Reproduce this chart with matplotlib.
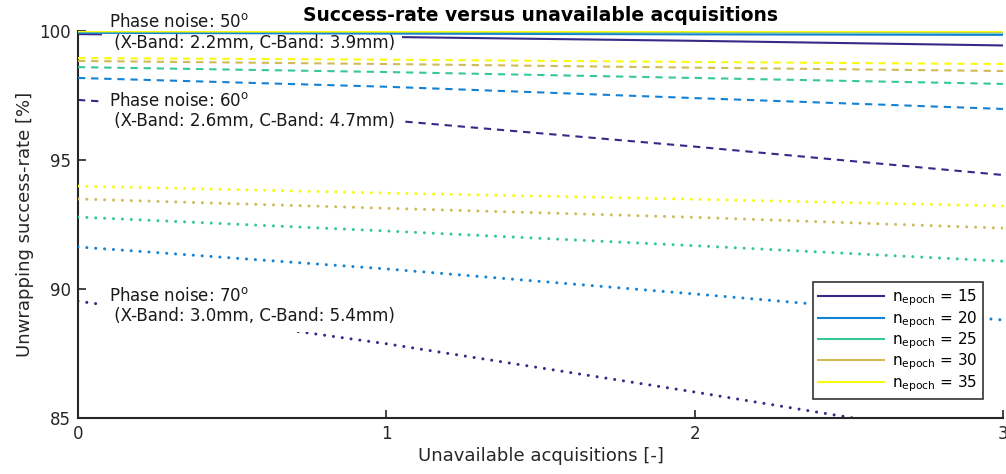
import matplotlib
matplotlib.use('Agg')
import matplotlib.pyplot as plt
import numpy as np

# unavailable acquisitions
x = [0, 1, 2, 3]
n_epochs = [15, 20, 25, 30, 35]
colors = ['#352a87', '#1482d4', '#37c897', '#d1bb59', '#f9fb0e']

# success rate [%] per n_epoch, for each phase noise level
sr_50 = [
    [99.88, 99.77, 99.62, 99.44],
    [99.93, 99.90, 99.87, 99.85],
    [99.97, 99.96, 99.95, 99.94],
    [99.99, 99.98, 99.98, 99.97],
    [100.0, 99.99, 99.99, 99.99],
]
sr_60 = [
    [97.33, 96.55, 95.52, 94.42],
    [98.18, 97.84, 97.40, 96.98],
    [98.60, 98.41, 98.18, 97.95],
    [98.84, 98.72, 98.58, 98.45],
    [98.95, 98.89, 98.80, 98.72],
]
sr_70 = [
    [89.53, 87.88, 86.01, 84.05],
    [91.63, 90.78, 89.81, 88.80],
    [92.79, 92.25, 91.68, 91.08],
    [93.49, 93.13, 92.78, 92.36],
    [93.99, 93.72, 93.48, 93.22],
]

labels_50 = 'Phase noise: 50$^\\mathregular{o}$\n (X-Band: 2.2mm, C-Band: 3.9mm)'
labels_60 = 'Phase noise: 60$^\\mathregular{o}$\n (X-Band: 2.6mm, C-Band: 4.7mm)'
labels_70 = 'Phase noise: 70$^\\mathregular{o}$\n (X-Band: 3.0mm, C-Band: 5.4mm)'

fig = plt.figure(figsize=(10.06, 4.74), dpi=100)
ax = fig.add_axes([0.0775, 0.118, 0.9195, 0.8166])

dashed = (0, (3.5, 2.8))
dotted = (0, (0.01, 2.9))
for i, n in enumerate(n_epochs):
    z = 2 if i == 0 else 4
    ax.plot(x, sr_50[i], color=colors[i], lw=1.5, zorder=z,
            label=r'$\mathregular{n_{epoch}}$ = %d' % n)
    ax.plot(x, sr_60[i], color=colors[i], lw=1.5, ls=dashed, zorder=z)
    ax.plot(x, sr_70[i], color=colors[i], lw=2.2, ls=dotted,
            dash_capstyle='round', zorder=z)

box = dict(facecolor='white', edgecolor='none', boxstyle='square,pad=0.4')
for lab, yv in [(labels_50, 99.94), (labels_60, 96.9), (labels_70, 89.34)]:
    ax.text(0.1, yv, lab, fontsize=12, ha='left', va='center',
            color='#1a1a1a', bbox=box, zorder=3, linespacing=1.2)

ax.set_xlim(0, 3)
ax.set_ylim(85, 100)
ax.set_xticks([0, 1, 2, 3])
ax.set_yticks([85, 90, 95, 100])
for s in ['top', 'right']:
    ax.spines[s].set_visible(False)
for s in ['left', 'bottom']:
    ax.spines[s].set_linewidth(1.5)
    ax.spines[s].set_color('#262626')
ax.tick_params(direction='in', length=6, width=1.2, labelsize=12,
               colors='#262626', pad=5)

ax.set_title('Success-rate versus unavailable acquisitions', fontsize=13.5,
             fontweight='bold', pad=7)
ax.set_xlabel('Unavailable acquisitions [-]', fontsize=13, color='#262626',
              labelpad=3)
ax.set_ylabel('Unwrapping success-rate [%]', fontsize=13, color='#262626',
              labelpad=4)

leg = ax.legend(loc='lower right', bbox_to_anchor=(0.978, 0.049), fontsize=11,
                fancybox=False, framealpha=1, edgecolor='#333333',
                handlelength=4.3, labelspacing=0.05, borderpad=0.35,
                handletextpad=0.5, borderaxespad=0)
leg.get_frame().set_linewidth(1.2)

fig.savefig('out.png', dpi=100)
